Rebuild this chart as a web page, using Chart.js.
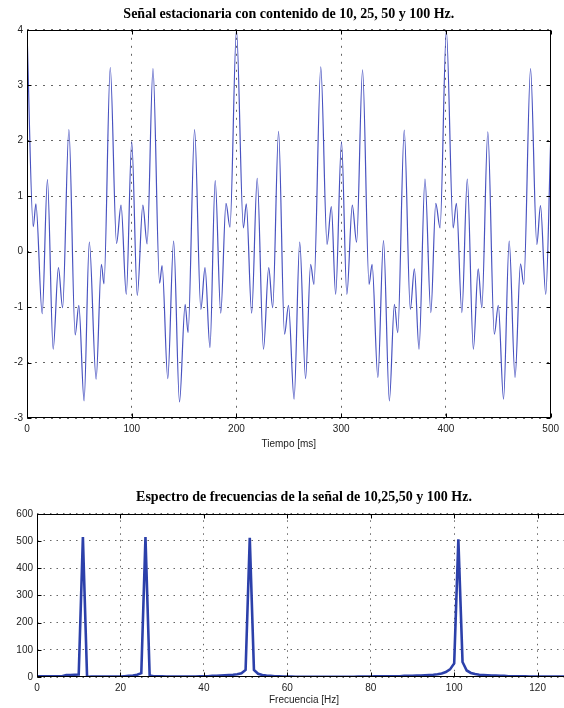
<!DOCTYPE html>
<html lang="es">
<head>
    <meta charset="UTF-8">
    <title>Señal estacionaria y su espectro</title>
    <style>
        html, body {
            margin: 0;
            padding: 0;
            background-color: #ffffff;
            overflow: hidden;
        }

        body {
            width: 564px;
            height: 708px;
            position: relative;
        }

        #cajaSenal {
            position: absolute;
            left: 0;
            top: 0;
            width: 564px;
            height: 452px;
        }

        /* the right border of the spectrum plot falls outside the page */
        #cajaEspectro {
            position: absolute;
            left: 0;
            top: 480px;
            width: 564px;
            height: 228px;
            overflow: hidden;
        }

        canvas {
            display: block;
        }
    </style>
</head>
<body>
    <div id="cajaSenal"><canvas id="graficoSenal" width="564" height="452"></canvas></div>
    <div id="cajaEspectro"><canvas id="graficoEspectro" width="580" height="228"></canvas></div>

    <script src="https://cdn.jsdelivr.net/npm/chart.js"></script>
    <script>
        // Senal en el tiempo: maximos y minimos (ms, amplitud)
        const tiempoMs = [
            0, 6, 8.5, 14.5, 19.5, 25, 30, 34, 40, 46, 49.5, 54.5, 59.5, 66, 71, 73.5, 79.5, 85.5, 89.8, 94.8,
            100, 105.3, 110.6, 114.7, 120.3, 126.6, 129, 134.4, 140, 145.6, 151, 153.8, 160, 166, 170, 174.7, 179.7, 185, 190, 193.8,
            200, 206.6, 209.4, 214.5, 219.8, 225.8, 230.8, 234.6, 240.2, 245.9, 249.7, 255, 260.4, 266, 270.8, 274, 280.5, 286.5, 290.6, 294.7,
            300.3, 305.4, 310.6, 314.7, 320.4, 326.6, 329.5, 335, 340.4, 346, 350.8, 354, 360.2, 366, 369.9, 374.3, 380, 385.6, 390.3, 394.4,
            400.4, 406.9, 410, 415.2, 420.4, 426.2, 430.8, 434.3, 440, 446.2, 450, 455, 460.4, 466, 471.2, 474.3, 480.8, 486.8, 490.3, 495.3,
            500
        ];
        const amplitud = [
            3.98, 0.45, 0.86, -1.12, 1.3, -1.76, -0.29, -1.01, 2.2, -1.5, -0.97, -2.69, 0.17, -2.3, -0.23, -0.58, 3.32, 0.15, 0.84, -0.77,
            1.98, -0.79, 0.84, 0.14, 3.3, -0.57, -0.25, -2.29, 0.19, -2.71, -0.95, -1.46, 2.2, -1.04, -0.29, -1.73, 1.28, -1.11, 0.87, 0.44,
            4.0, 0.43, 0.86, -1.11, 1.32, -1.76, -0.29, -1.01, 2.17, -1.49, -0.97, -2.66, 0.17, -2.29, -0.23, -0.59, 3.33, 0.13, 0.81, -0.77,
            1.98, -0.77, 0.84, 0.17, 3.28, -0.59, -0.23, -2.27, 0.2, -2.69, -0.95, -1.46, 2.19, -1.04, -0.31, -1.76, 1.31, -1.1, 0.87, 0.43,
            3.99, 0.43, 0.87, -1.1, 1.31, -1.76, -0.31, -1.01, 2.16, -1.49, -0.97, -2.66, 0.19, -2.27, -0.22, -0.59, 3.3, 0.13, 0.83, -0.77,
            1.98
        ];

        // Espectro: magnitud por frecuencia (Hz)
        const frecuenciaHz = [
            0, 1, 2, 3, 4, 5, 6, 7, 8, 9, 10, 11, 12, 13, 14, 15, 16, 17, 18, 19, 20,
            21, 22, 23, 24, 25, 26, 27, 28, 29, 30, 31, 32, 33, 34, 35, 36, 37, 38, 39, 40,
            41, 42, 43, 44, 45, 46, 47, 48, 49, 50, 51, 52, 53, 54, 55, 56, 57, 58, 59, 60,
            61, 62, 63, 64, 65, 66, 67, 68, 69, 70, 71, 72, 73, 74, 75, 76, 77, 78, 79, 80,
            81, 82, 83, 84, 85, 86, 87, 88, 89, 90, 91, 92, 93, 94, 95, 96, 97, 98, 99, 100,
            101, 102, 103, 104, 105, 106, 107, 108, 109, 110, 111, 112, 113, 114, 115, 116, 117, 118, 119, 120,
            121, 122, 123, 124, 125, 126, 127, 128
        ];
        const magnitud = [
            3, 3, 3, 3, 3, 3, 3, 7, 7, 8, 9, 515, 0, 2, 2, 2, 2, 2, 2, 2, 2,
            3, 4, 5, 8, 14, 515, 5, 3, 3, 3, 2, 2, 2, 2, 2, 2, 2, 2, 3, 3,
            3, 4, 4, 5, 6, 7, 8, 10, 14, 26, 512, 26, 12, 7, 5, 4, 3, 3, 2, 2,
            2, 1, 1, 1, 1, 1, 1, 1, 1, 1, 1, 1, 1, 1, 1, 1, 2, 2, 2, 2,
            3, 3, 3, 3, 3, 3, 3, 4, 4, 4, 5, 5, 6, 7, 8, 10, 13, 18, 28, 50,
            506, 55, 24, 15, 11, 8, 7, 6, 5, 5, 4, 4, 3, 3, 3, 3, 3, 2, 2, 2,
            2, 2, 2, 2, 2, 2, 2, 2
        ];

        const fuenteEjes = { family: "'Liberation Sans', Arial, sans-serif", size: 10 };
        const fuenteTitulo = { family: "'Liberation Serif', 'Times New Roman', serif", size: 14, weight: 'bold' };

        // Caja negra alrededor del area del grafico, con marcas hacia dentro (estilo MATLAB)
        const marcoMatlab = {
            id: 'marcoMatlab',
            afterDraw(chart) {
                const ctx = chart.ctx;
                const a = chart.chartArea;
                const sx = chart.scales.x;
                const sy = chart.scales.y;
                const izq = Math.round(a.left) + 0.5;
                const der = Math.round(a.right) - 0.5;
                const arr = Math.round(a.top) + 0.5;
                const aba = Math.round(a.bottom) - 0.5;
                ctx.save();
                ctx.strokeStyle = '#000';
                ctx.lineWidth = 1;
                ctx.strokeRect(izq, arr, der - izq, aba - arr);
                ctx.beginPath();
                sx.ticks.forEach(function(t) {
                    const px = Math.round(sx.getPixelForValue(t.value)) + 0.5;
                    ctx.moveTo(px, aba); ctx.lineTo(px, aba - 4);
                    ctx.moveTo(px, arr); ctx.lineTo(px, arr + 4);
                });
                sy.ticks.forEach(function(t) {
                    const py = Math.round(sy.getPixelForValue(t.value)) + 0.5;
                    ctx.moveTo(izq, py); ctx.lineTo(izq + 4, py);
                    ctx.moveTo(der, py); ctx.lineTo(der - 4, py);
                });
                ctx.stroke();
                ctx.restore();
            }
        };

        function ejes(minX, maxX, pasoX, minY, maxY, pasoY, tituloX, anchoY, altoX, guiones) {
            return {
                x: {
                    type: 'linear',
                    min: minX,
                    max: maxX,
                    afterFit: function(scale) { scale.height = altoX; },
                    // only the round ticks, no label at the axis end (128)
                    afterBuildTicks: function(scale) {
                        scale.ticks = scale.ticks.filter(function(t) { return t.value % pasoX === 0; });
                    },
                    ticks: { stepSize: pasoX, color: '#222', font: fuenteEjes, padding: 5, maxRotation: 0 },
                    grid: { color: '#666', lineWidth: 1, drawTicks: false },
                    border: { display: false, dash: guiones },
                    title: { display: true, text: tituloX, color: '#222', font: fuenteEjes, padding: { top: 0, bottom: 2 } }
                },
                y: {
                    min: minY,
                    max: maxY,
                    afterFit: function(scale) { scale.width = anchoY; },
                    ticks: { stepSize: pasoY, color: '#222', font: fuenteEjes, padding: 4 },
                    grid: { color: '#666', lineWidth: 1, drawTicks: false },
                    border: { display: false, dash: guiones }
                }
            };
        }

        // Grafico de arriba: senal en el tiempo
        new Chart(document.getElementById('graficoSenal'), {
            type: 'line',
            data: {
                datasets: [{
                    data: tiempoMs.map(function(t, i) { return { x: t, y: amplitud[i] }; }),
                    borderColor: 'rgb(72, 82, 192)',
                    borderWidth: 1.2,
                    pointRadius: 0,
                    cubicInterpolationMode: 'monotone',
                    fill: false
                }]
            },
            options: {
                responsive: false,
                animation: false,
                layout: { padding: { left: 0, right: 7, top: 0, bottom: 0 } },
                plugins: {
                    legend: { display: false },
                    tooltip: { enabled: false },
                    title: {
                        display: true,
                        fullSize: false,
                        text: 'Señal estacionaria con contenido de 10, 25, 50 y 100 Hz.',
                        color: '#000',
                        font: fuenteTitulo,
                        padding: { top: 6, bottom: 7 }
                    }
                },
                scales: ejes(0, 500, 100, -3, 4, 1, 'Tiempo [ms]', 27, 34, [2, 6])
            },
            plugins: [marcoMatlab]
        });

        // Grafico de abajo: espectro de frecuencias
        new Chart(document.getElementById('graficoEspectro'), {
            type: 'line',
            data: {
                labels: frecuenciaHz,
                datasets: [{
                    data: magnitud,
                    borderColor: 'rgb(44, 64, 170)',
                    borderWidth: 2.6,
                    pointRadius: 0,
                    tension: 0,
                    fill: false
                }]
            },
            options: {
                responsive: false,
                animation: false,
                layout: { padding: { left: 0, right: 9, top: 0, bottom: 0 } },
                plugins: {
                    legend: { display: false },
                    tooltip: { enabled: false },
                    title: {
                        display: true,
                        fullSize: false,
                        text: 'Espectro de frecuencias de la señal de 10,25,50 y 100 Hz.',
                        color: '#000',
                        font: fuenteTitulo,
                        padding: { top: 9, bottom: 8 }
                    }
                },
                scales: ejes(0, 128, 20, 0, 600, 100, 'Frecuencia [Hz]', 37, 31, [1.5, 5])
            },
            plugins: [marcoMatlab]
        });
    </script>
</body>
</html>
